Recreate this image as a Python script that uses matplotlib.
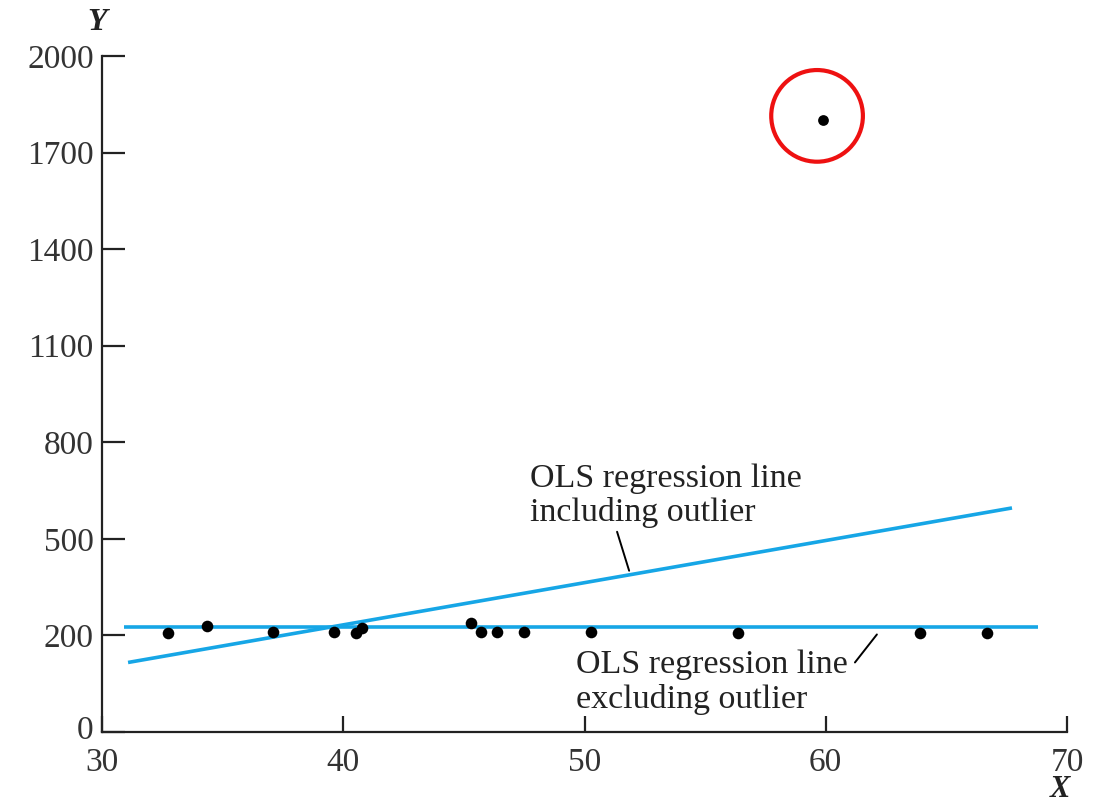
import numpy as np
import matplotlib
matplotlib.use("Agg")
import matplotlib.pyplot as plt
from matplotlib.transforms import ScaledTranslation

# ---- data ----
x_points = [32.74, 34.35, 37.09, 39.62, 40.53, 40.78, 45.30, 45.72, 46.38, 47.50, 50.27, 56.36, 63.91, 66.68]
y_points = [209, 228, 212, 212, 209, 222, 240, 212, 212, 212, 212, 209, 209, 209]
outlier_x = [59.89]
outlier_y = [1800]
line_incl_x = [31.08, 67.72]
line_incl_y = [144, 596]
line_excl_x = [30.9, 68.8]
line_excl_y = [225, 225]
x_ticks = [30, 40, 50, 60, 70]
y_ticks = [0, 200, 500, 800, 1100, 1400, 1700, 2000]


def fwd(y):
    y = np.asarray(y, dtype=float)
    return np.where(y <= 200, y / 200.0, 1 + (y - 200) / 300.0)


def inv(p):
    p = np.asarray(p, dtype=float)
    return np.where(p <= 1, p * 200.0, 200 + (p - 1) * 300.0)


plt.rcParams['font.family'] = ['Liberation Serif', 'DejaVu Serif']

fig = plt.figure(figsize=(11.05, 8.05), dpi=100)
ax = fig.add_axes([102 / 1105, 1 - 732 / 805, (1067 - 102) / 1105, (732 - 56) / 805])
ax.set_yscale('function', functions=(fwd, inv))
ax.set_xlim(30, 70)
ax.set_ylim(0, 2000)

blue = '#16A6E6'
ax.plot(line_excl_x, line_excl_y, color=blue, lw=2.6, solid_capstyle='butt', zorder=2)
ax.plot(line_incl_x, line_incl_y, color=blue, lw=2.6, solid_capstyle='butt', zorder=2)
ax.scatter(x_points, y_points, s=70, color='black', zorder=3, linewidths=0)
ax.scatter(outlier_x, outlier_y, s=60, color='black', zorder=3, linewidths=0)
# red circle around outlier
ax.scatter([59.64], [1814], s=66 ** 2, facecolors='none', edgecolors='#EE1111', linewidths=3, zorder=3)

# annotations
ax.text(47.73, 735, 'OLS regression line\nincluding outlier', fontsize=24.5, va='top', ha='left',
        color='#222222', linespacing=1.15)
ax.annotate('', xy=(51.85, 401), xytext=(51.35, 522),
            arrowprops=dict(arrowstyle='-', lw=1.4, color='black', shrinkA=0, shrinkB=0))
ax.text(49.65, 170, 'OLS regression line\nexcluding outlier', fontsize=24.5, va='top', ha='left',
        color='#222222', linespacing=1.15)
ax.annotate('', xy=(62.12, 203), xytext=(61.21, 144),
            arrowprops=dict(arrowstyle='-', lw=1.4, color='black', shrinkA=0, shrinkB=0))

# axes styling
for s in ['top', 'right']:
    ax.spines[s].set_visible(False)
for s in ['left', 'bottom']:
    ax.spines[s].set_linewidth(1.6)
    ax.spines[s].set_color('#222222')

ax.set_xticks(x_ticks)
ax.set_yticks(y_ticks)
ax.set_xticklabels([str(v) for v in x_ticks])
ax.set_yticklabels([str(v) for v in y_ticks])
ax.minorticks_off()
ax.tick_params(axis='y', direction='in', length=16.5, width=1.6, pad=6, labelsize=24,
               labelcolor='#333333', color='#222222')
ax.tick_params(axis='x', direction='in', length=11.5, width=1.6, pad=11, labelsize=24,
               labelcolor='#333333', color='#222222')

# lift the "0" label a little so it clears the "30" below it
lbl0 = ax.get_yticklabels()[0]
lbl0.set_transform(lbl0.get_transform() + ScaledTranslation(0, 5 / 100, fig.dpi_scale_trans))

fig.text(97 / 1105, 1 - 22 / 805, 'Y', fontsize=23, fontweight='bold', fontstyle='italic',
         ha='center', va='center', color='#222222')
fig.text(1060 / 1105, 1 / 805, 'X', fontsize=22, fontweight='bold', fontstyle='italic',
         ha='center', va='bottom', color='#222222')

fig.savefig('out.png', dpi=100)
